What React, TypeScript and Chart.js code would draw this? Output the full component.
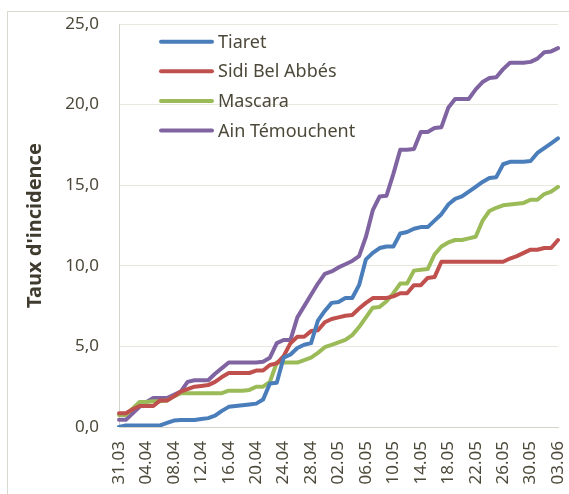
import React, { useEffect, useRef } from "react";
import { Chart, registerables } from "chart.js";

Chart.register(...registerables);

const dates = [
  "31.03", "01.04", "02.04", "03.04", "04.04", "05.04", "06.04", "07.04", "08.04", "09.04",
  "10.04", "11.04", "12.04", "13.04", "14.04", "15.04", "16.04", "17.04", "18.04", "19.04",
  "20.04", "21.04", "22.04", "23.04", "24.04", "25.04", "26.04", "27.04", "28.04", "29.04",
  "30.04", "01.05", "02.05", "03.05", "04.05", "05.05", "06.05", "07.05", "08.05", "09.05",
  "10.05", "11.05", "12.05", "13.05", "14.05", "15.05", "16.05", "17.05", "18.05", "19.05",
  "20.05", "21.05", "22.05", "23.05", "24.05", "25.05", "26.05", "27.05", "28.05", "29.05",
  "30.05", "31.05", "01.06", "02.06", "03.06",
];

const tiaret = [
  0.0, 0.1, 0.1, 0.1, 0.1, 0.1, 0.1, 0.25, 0.4, 0.43,
  0.43, 0.43, 0.5, 0.55, 0.7, 1.0, 1.25, 1.3, 1.35, 1.4,
  1.45, 1.7, 2.7, 2.75, 4.3, 4.5, 4.9, 5.1, 5.2, 6.6,
  7.2, 7.7, 7.75, 8.0, 8.0, 8.8, 10.4, 10.8, 11.1, 11.2,
  11.2, 12.0, 12.1, 12.3, 12.4, 12.4, 12.8, 13.2, 13.8, 14.15,
  14.3, 14.6, 14.9, 15.2, 15.45, 15.5, 16.3, 16.45, 16.45, 16.45,
  16.5, 17.0, 17.3, 17.6, 17.9,
];

const sidiBelAbbes = [
  0.85, 0.85, 1.1, 1.3, 1.3, 1.3, 1.65, 1.65, 1.9, 2.2,
  2.35, 2.5, 2.55, 2.6, 2.8, 3.1, 3.35, 3.35, 3.35, 3.35,
  3.5, 3.5, 3.85, 3.95, 4.4, 5.2, 5.6, 5.6, 5.95, 6.0,
  6.5, 6.7, 6.8, 6.9, 6.95, 7.35, 7.7, 8.0, 8.0, 8.0,
  8.1, 8.3, 8.3, 8.8, 8.8, 9.25, 9.3, 10.25, 10.25, 10.25,
  10.25, 10.25, 10.25, 10.25, 10.25, 10.25, 10.25, 10.45, 10.6, 10.8,
  11.0, 11.0, 11.1, 11.1, 11.6,
];

const mascara = [
  0.75, 0.75, 1.15, 1.55, 1.55, 1.6, 1.6, 1.65, 1.9, 2.1,
  2.1, 2.1, 2.1, 2.1, 2.1, 2.1, 2.25, 2.25, 2.25, 2.3,
  2.5, 2.5, 2.8, 4.0, 4.0, 4.0, 4.0, 4.15, 4.3, 4.6,
  4.95, 5.1, 5.25, 5.4, 5.7, 6.2, 6.8, 7.4, 7.45, 7.8,
  8.3, 8.9, 8.9, 9.7, 9.75, 9.8, 10.7, 11.2, 11.45, 11.6,
  11.6, 11.7, 11.8, 12.8, 13.4, 13.6, 13.75, 13.8, 13.85, 13.9,
  14.1, 14.1, 14.45, 14.6, 14.9,
];

const ainTemouchent = [
  0.45, 0.45, 0.85, 1.25, 1.55, 1.8, 1.8, 1.8, 2.0, 2.2,
  2.8, 2.9, 2.9, 2.9, 3.3, 3.65, 4.0, 4.0, 4.0, 4.0,
  4.0, 4.05, 4.3, 5.2, 5.4, 5.4, 6.8, 7.5, 8.2, 8.9,
  9.5, 9.65, 9.9, 10.1, 10.3, 10.6, 11.8, 13.45, 14.3, 14.35,
  15.7, 17.2, 17.2, 17.25, 18.3, 18.3, 18.55, 18.6, 19.8, 20.35,
  20.35, 20.35, 20.95, 21.4, 21.65, 21.7, 22.2, 22.6, 22.6, 22.6,
  22.65, 22.85, 23.25, 23.3, 23.5,
];

const seriesNames = ["Tiaret", "Sidi Bel Abbés", "Mascara", "Ain Témouchent"];
const seriesColors = ["#4a7ebb", "#c0504d", "#9bbb59", "#8064a2"];
const yTicks = [0, 5, 10, 15, 20, 25];
const yTitle = "Taux d'incidence";

const FONT = "'Noto Sans', 'DejaVu Sans', sans-serif";
const TEXT = "#4d493a";

const framePlugin = {
  id: "frame",
  beforeDraw(chart: any) {
    const { ctx, width, height } = chart;
    ctx.save();
    ctx.fillStyle = "#ffffff";
    ctx.fillRect(0, 0, width, height);
    ctx.strokeStyle = "#d9d9d0";
    ctx.lineWidth = 1;
    ctx.strokeRect(7.5, 11.5, width + 20, height + 20);
    ctx.restore();
  },
};

const legendPlugin = {
  id: "insideLegend",
  afterDraw(chart: any) {
    const { ctx } = chart;
    ctx.save();
    ctx.font = `18px ${FONT}`;
    ctx.textBaseline = "middle";
    ctx.textAlign = "left";
    chart.data.datasets.forEach((ds: any, i: number) => {
      const y = 41.7 + i * 29.6;
      ctx.strokeStyle = ds.borderColor;
      ctx.lineWidth = 4;
      ctx.lineCap = "round";
      ctx.beginPath();
      ctx.moveTo(161, y);
      ctx.lineTo(212, y);
      ctx.stroke();
      ctx.fillStyle = TEXT;
      ctx.fillText(ds.label, 218, y + 1);
    });
    ctx.restore();
  },
};

export default function App() {
  const ref = useRef<HTMLCanvasElement | null>(null);

  useEffect(() => {
    if (!ref.current) return;
    const values = [tiaret, sidiBelAbbes, mascara, ainTemouchent];
    const chart = new Chart(ref.current, {
      type: "line",
      data: {
        labels: dates,
        datasets: values.map((v, i) => ({
          label: seriesNames[i],
          data: v,
          borderColor: seriesColors[i],
          backgroundColor: seriesColors[i],
          borderWidth: 4,
          pointRadius: 0,
          tension: 0,
          borderJoinStyle: "round" as const,
          borderCapStyle: "round" as const,
        })),
      },
      options: {
        responsive: false,
        animation: false,
        devicePixelRatio: 1,
        layout: { padding: { left: 0, right: 11, top: 24, bottom: 0 } },
        plugins: {
          legend: { display: false },
          tooltip: { enabled: false },
        },
        scales: {
          x: {
            offset: false,
            grid: { display: false },
            border: { display: true, color: "#d4d4c8", width: 1 },
            afterFit(scale: any) {
              scale.height = 67;
              scale.paddingLeft = 0;
              scale.paddingRight = 0;
            },
            ticks: {
              autoSkip: false,
              minRotation: 90,
              maxRotation: 90,
              padding: 6,
              color: TEXT,
              font: { family: FONT, size: 17 },
              callback: (_v: any, i: number) => (i % 4 === 0 ? dates[i] : ""),
            },
          },
          y: {
            min: 0,
            max: 25,
            afterBuildTicks(scale: any) {
              scale.ticks = yTicks.map((v) => ({ value: v }));
            },
            afterFit(scale: any) {
              scale.width = 119;
              scale.paddingTop = 0;
              scale.paddingBottom = 0;
            },
            grid: { color: "#e8e8df", drawTicks: false },
            border: { display: true, color: "#d4d4c8", width: 1 },
            ticks: {
              padding: 20,
              color: TEXT,
              font: { family: FONT, size: 17 },
              callback: (v: any) => Number(v).toFixed(1).replace(".", ","),
            },
            title: {
              display: true,
              text: yTitle,
              color: "#3f3b2f",
              font: { family: FONT, size: 20, weight: "bold" },
              padding: { top: 23, bottom: 0 },
            },
          },
        },
      },
      plugins: [framePlugin, legendPlugin],
    });
    return () => chart.destroy();
  }, []);

  return (
    <div style={{ position: "fixed", left: 0, top: 0, width: 569, height: 494 }}>
      <canvas ref={ref} width={569} height={494} style={{ width: 569, height: 494, display: "block" }} />
    </div>
  );
}
